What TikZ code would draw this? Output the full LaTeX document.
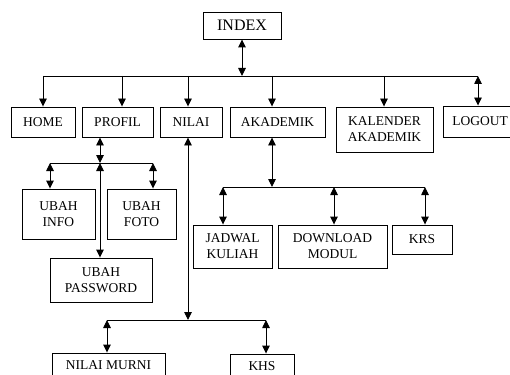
\documentclass[tikz,border=0pt]{standalone}
\usepackage{fontspec}
\setmainfont{Liberation Serif}
\usetikzlibrary{arrows.meta}

\tikzset{box/.style={draw,line width=0.9pt,align=center,inner sep=0pt,font=\fontsize{13.5}{16}\selectfont}}
\tikzset{con/.style={line width=0.9pt}}
\tikzset{arr/.style={con,-{Triangle[length=8pt,width=7.5pt]}}}
\tikzset{darr/.style={con,{Triangle[length=8pt,width=7.5pt]}-{Triangle[length=8pt,width=7.5pt]}}}

\begin{document}
\begin{tikzpicture}[x=1pt,y=-1pt]
 		\useasboundingbox (0,0) rectangle (510,374);
 		\clip (0,0) rectangle (510,374);

 		\node[box,minimum width=78pt,minimum height=27pt,font=\fontsize{16}{18}\selectfont] (index) at (242,25.5) {INDEX};

 		\node[box,minimum width=64pt,minimum height=30pt] (home) at (43,122) {HOME};
 		\node[box,minimum width=71pt,minimum height=30pt] (profil) at (117.5,122) {PROFIL};
 		\node[box,minimum width=62pt,minimum height=30pt] (nilai) at (191,122) {NILAI};
 		\node[box,minimum width=95pt,minimum height=30pt] (akademik) at (277.5,122) {AKADEMIK};
 		\node[box,minimum width=97pt,minimum height=45pt] (kalender) at (384.5,129.5) {KALENDER\\AKADEMIK};
 		\node[box,minimum width=74pt,minimum height=31pt] (logout) at (480,121.5) {LOGOUT};

 		\coordinate (t0) at (242,76);
 		\coordinate (t1) at (43,76);
 		\coordinate (t2) at (122,76);
 		\coordinate (t3) at (188,76);
 		\coordinate (t4) at (272,76);
 		\coordinate (t5) at (384,76);
 		\coordinate (t6) at (478,76);

 		\draw[darr] (index) -- (t0);
 		\draw[con] (t1) -- (t6);
 		\draw[arr] (t1) -- (t1 |- home.north);
 		\draw[arr] (t2) -- (t2 |- profil.north);
 		\draw[arr] (t3) -- (t3 |- nilai.north);
 		\draw[arr] (t4) -- (t4 |- akademik.north);
 		\draw[arr] (t5) -- (t5 |- kalender.north);
 		\draw[darr] (t6) -- (t6 |- logout.north);

 		% profil
 		\node[box,minimum width=73pt,minimum height=50pt] (ubahinfo) at (58.5,214) {UBAH\\INFO};
 		\node[box,minimum width=69pt,minimum height=50pt] (ubahfoto) at (141.5,214) {UBAH\\FOTO};
 		\node[box,minimum width=102pt,minimum height=44pt] (ubahpass) at (101,280) {UBAH\\PASSWORD};

 		\coordinate (p0) at (100,163);
 		\coordinate (p1) at (50,163);
 		\coordinate (p2) at (153,163);

 		\draw[darr] (profil.south -| p0) -- (p0);
 		\draw[con] (p1) -- (p2);
 		\draw[darr] (p1) -- (p1 |- ubahinfo.north);
 		\draw[darr] (p0) -- (p0 |- ubahpass.north);
 		\draw[darr] (p2) -- (p2 |- ubahfoto.north);

 		% akademik
 		\node[box,minimum width=79pt,minimum height=43pt] (jadwal) at (232.5,246.5) {JADWAL\\KULIAH};
 		\node[box,minimum width=109pt,minimum height=43pt] (download) at (332.5,246.5) {DOWNLOAD\\MODUL};
 		\node[box,minimum width=60pt,minimum height=29pt] (krs) at (422,239.5) {KRS};

 		\coordinate (a0) at (272,187);
 		\coordinate (a1) at (223,187);
 		\coordinate (a2) at (334,187);
 		\coordinate (a3) at (425,187);

 		\draw[darr] (akademik.south -| a0) -- (a0);
 		\draw[con] (a1) -- (a3);
 		\draw[darr] (a1) -- (a1 |- jadwal.north);
 		\draw[darr] (a2) -- (a2 |- download.north);
 		\draw[darr] (a3) -- (a3 |- krs.north);

 		% nilai
 		\node[box,minimum width=113pt,minimum height=24pt] (murni) at (108.5,365) {NILAI MURNI};
 		\node[box,minimum width=64pt,minimum height=24pt] (khs) at (262,366) {KHS};

 		\coordinate (n0) at (188,320);
 		\coordinate (n1) at (107,320);
 		\coordinate (n2) at (266,320);

 		\draw[darr] (nilai.south -| n0) -- (n0);
 		\draw[con] (n1) -- (n2);
 		\draw[darr] (n1) -- (n1 |- murni.north);
 		\draw[darr] (n2) -- (n2 |- khs.north);
\end{tikzpicture}
\end{document}
